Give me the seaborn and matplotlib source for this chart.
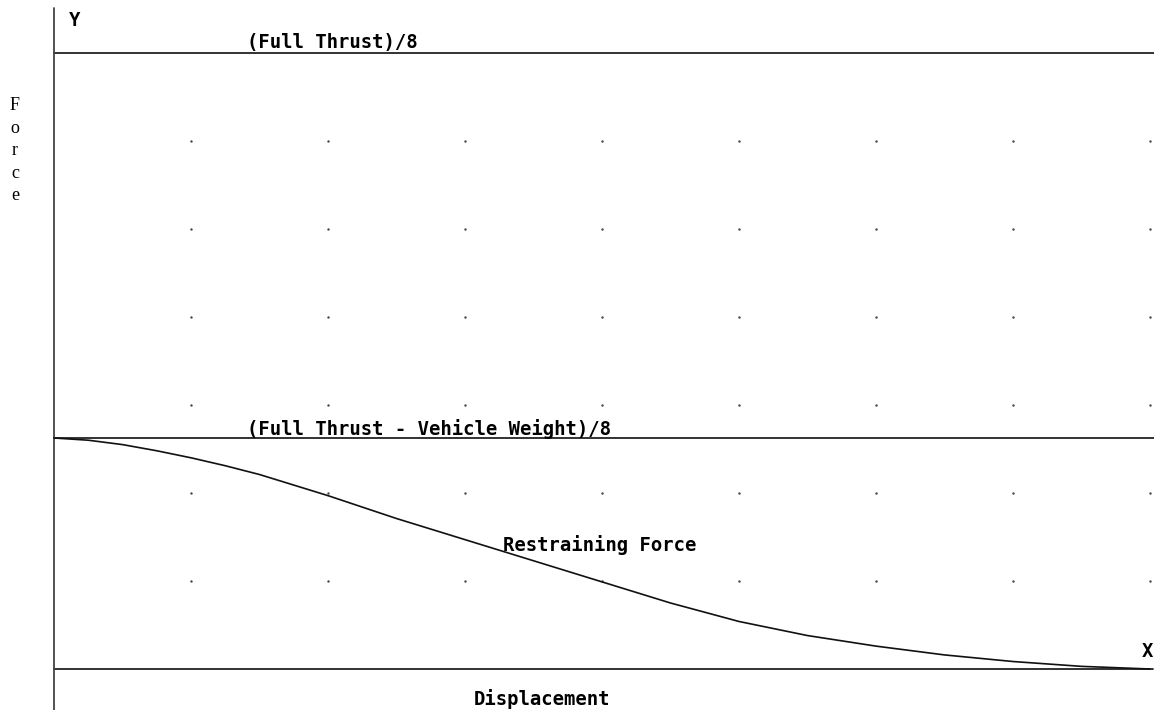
import numpy as np
import pandas as pd
import matplotlib
matplotlib.use('Agg')
import matplotlib.pyplot as plt
import seaborn as sns

# Restraining force curve (displacement units, force units; 8 x-units, full thrust/8 = 7)
disp = [0.0, 0.25, 0.5, 0.75, 1.0, 1.25, 1.5, 2.0, 2.5, 3.0, 3.5, 4.0, 4.5, 5.0,
        5.5, 6.0, 6.5, 7.0, 7.5, 8.0]
force = [2.625, 2.60, 2.55, 2.48, 2.40, 2.31, 2.21, 1.97, 1.71, 1.47, 1.23, 0.99,
         0.75, 0.54, 0.38, 0.26, 0.16, 0.085, 0.03, 0.0]

full_thrust = 7.0
thrust_minus_weight = 2.625

grid_x = [1, 2, 3, 4, 5, 6, 7, 8]
grid_y = [1, 2, 3, 4, 5, 6]

curve = pd.DataFrame({'disp': disp, 'force': force})
gx, gy = np.meshgrid(grid_x, grid_y)
dots = pd.DataFrame({'x': gx.ravel(), 'y': gy.ravel()})

sns.set_style('white')
fig = plt.figure(figsize=(11.54, 7.10), dpi=100)
ax = fig.add_axes([0, 0, 1, 1])

# faint grid dots
sns.scatterplot(x='x', y='y', data=dots, s=3, color='#444444', linewidth=0, ax=ax)

# reference lines
ax.plot([0, 8.05], [full_thrust, full_thrust], color='#222222', lw=1.3)
ax.plot([0, 8.05], [thrust_minus_weight, thrust_minus_weight], color='#222222', lw=1.3)
ax.plot([0, 8.02], [0, 0], color='#222222', lw=1.3)
ax.plot([0, 0], [-1, 7.51], color='#444444', lw=1.3)

sns.lineplot(x='disp', y='force', data=curve, color='#111111', lw=1.2, ax=ax)

mono = dict(family='DejaVu Sans Mono', weight='bold', fontsize=13.6, color='black')
ax.text(0.11, 7.37, 'Y', va='center', ha='left', **mono)
ax.text(1.41, 7.12, '(Full Thrust)/8', va='center', ha='left', **mono)
ax.text(1.41, 2.73, '(Full Thrust - Vehicle Weight)/8', va='center', ha='left', **mono)
ax.text(3.28, 1.41, 'Restraining Force', va='center', ha='left', **mono)
ax.text(7.94, 0.20, 'X', va='center', ha='left', **mono)
ax.text(3.56, -0.34, 'Displacement', va='center', ha='center', **mono)

# vertical stacked axis label
for i, ch in enumerate('Force'):
    ax.text(-0.285, 6.4 - i * 0.255, ch, va='center', ha='center',
            family='Liberation Serif', fontsize=13, color='black')

ax.set_xlim(-54 / 137, 1100 / 137)
ax.set_ylim(-41 / 88, 669 / 88)
ax.set_xlabel('')
ax.set_ylabel('')
ax.set_xticks([])
ax.set_yticks([])
for s in ax.spines.values():
    s.set_visible(False)

fig.savefig('out.png', dpi=100)
